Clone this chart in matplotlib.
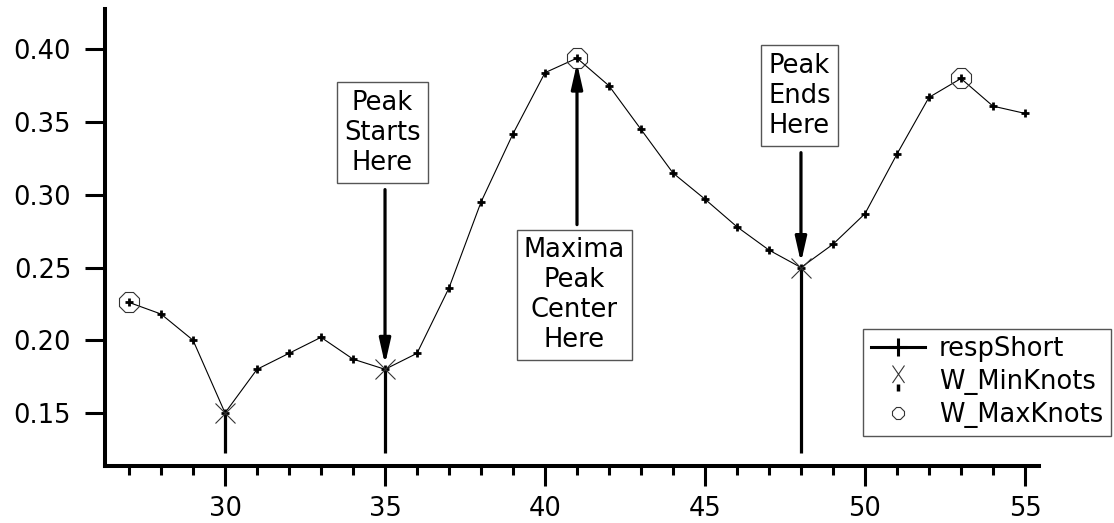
import matplotlib
matplotlib.use("Agg")
import matplotlib.pyplot as plt
from matplotlib.lines import Line2D
from matplotlib.path import Path
from matplotlib.legend_handler import HandlerTuple
from matplotlib.ticker import MultipleLocator, FormatStrFormatter

# data
x_resp = list(range(27, 56))
resp_short = [0.226, 0.218, 0.200, 0.150, 0.180, 0.191, 0.202, 0.187, 0.180,
              0.191, 0.236, 0.295, 0.342, 0.384, 0.394, 0.375, 0.345, 0.315,
              0.297, 0.278, 0.262, 0.250, 0.266, 0.287, 0.328, 0.367, 0.380,
              0.361, 0.356]
x_min = [30, 35, 48]
w_min_knots = [0.150, 0.180, 0.250]
x_max = [27, 41, 53]
w_max_knots = [0.226, 0.394, 0.380]
stick_base = 0.1225

notes = ["Peak\nStarts\nHere", "Maxima\nPeak\nCenter\nHere", "Peak\nEnds\nHere"]
note_pos = [(34.91, 0.3428), (40.92, 0.2309), (47.95, 0.3683)]
arrow_x = [35, 41, 48]
arrow_from = [0.3036, 0.2795, 0.3290]
arrow_to = [0.180, 0.394, 0.250]

fs = 18.5

fig = plt.figure(figsize=(11.14, 5.23), dpi=100)
ax = fig.add_axes([0.0943, 0.109, 0.8384, 0.8738])

ax.plot(x_resp, resp_short, color='black', lw=0.8, marker='+', ms=6, mew=2,
        zorder=3)
ax.vlines(x_min, stick_base, w_min_knots, color='black', lw=2.3, zorder=2)
ax.plot(x_min, w_min_knots, ls='none', marker='x', ms=15, mew=0.8,
        color='#333333', zorder=4)
ax.plot(x_max, w_max_knots, ls='none', marker='8', ms=15, mew=0.8,
        mfc='none', mec='#333333', zorder=4)

for txt, (tx, ty) in zip(notes, note_pos):
    ax.text(tx, ty, txt, fontsize=fs, ha='center', va='center',
            multialignment='center', linespacing=1.2,
            bbox=dict(boxstyle='square,pad=0.28', fc='white', ec='#555555', lw=1))

for ax_x, y0, y1 in zip(arrow_x, arrow_from, arrow_to):
    ax.annotate('', xy=(ax_x, y1), xytext=(ax_x, y0),
                arrowprops=dict(arrowstyle='-|>,head_length=0.75,head_width=0.17',
                                mutation_scale=20, color='black', lw=2.3,
                                shrinkA=0, shrinkB=3.5), zorder=5)

ax.set_xlim(26.25, 55.44)
ax.set_ylim(0.1135, 0.4278)
ax.spines['top'].set_visible(False)
ax.spines['right'].set_visible(False)
for s in ('left', 'bottom'):
    ax.spines[s].set_linewidth(2.9)
ax.xaxis.set_major_locator(MultipleLocator(5))
ax.xaxis.set_minor_locator(MultipleLocator(1))
ax.yaxis.set_major_locator(MultipleLocator(0.05))
ax.yaxis.set_major_formatter(FormatStrFormatter('%.2f'))
ax.tick_params(which='major', length=14.4, width=2.2, labelsize=fs, pad=10)
ax.tick_params(axis='x', which='major', pad=7.5)
ax.tick_params(axis='x', which='minor', length=6.5, width=2.2)

# legend handles
h_resp = Line2D([], [], color='black', lw=2.2, marker='+', ms=13, mew=2.2)
x_path = Path([(-0.24, -0.1), (0.24, 0.6), (-0.24, 0.6), (0.24, -0.1),
               (0, -1.0), (0, 1.0)],
              [Path.MOVETO, Path.LINETO, Path.MOVETO, Path.LINETO,
               Path.MOVETO, Path.MOVETO])
bar_path = Path([(0, -0.15), (0, -0.45), (0, 1.0), (0, -1.0)],
                [Path.MOVETO, Path.LINETO, Path.MOVETO, Path.MOVETO])
h_min = (Line2D([], [], ls='none', marker=x_path, ms=36, mew=0.8, color='#333333'),
         Line2D([], [], ls='none', marker=bar_path, ms=36, mew=2.5, color='black'))
h_max = Line2D([], [], ls='none', marker='8', ms=9, mew=0.8, mfc='none',
               mec='#333333')

leg = fig.legend([h_resp, h_min, h_max], ['respShort', 'W_MinKnots', 'W_MaxKnots'],
                 loc='lower right', bbox_to_anchor=(1111 / 1114, 87 / 523),
                 bbox_transform=fig.transFigure, borderaxespad=0, fontsize=fs,
                 fancybox=False, framealpha=1, edgecolor='#555555',
                 handlelength=2.1, handletextpad=0.55, labelspacing=0.27,
                 borderpad=0.3, handler_map={tuple: HandlerTuple(ndivide=1)})
leg.get_frame().set_linewidth(1)

fig.savefig('out.png', dpi=100)
